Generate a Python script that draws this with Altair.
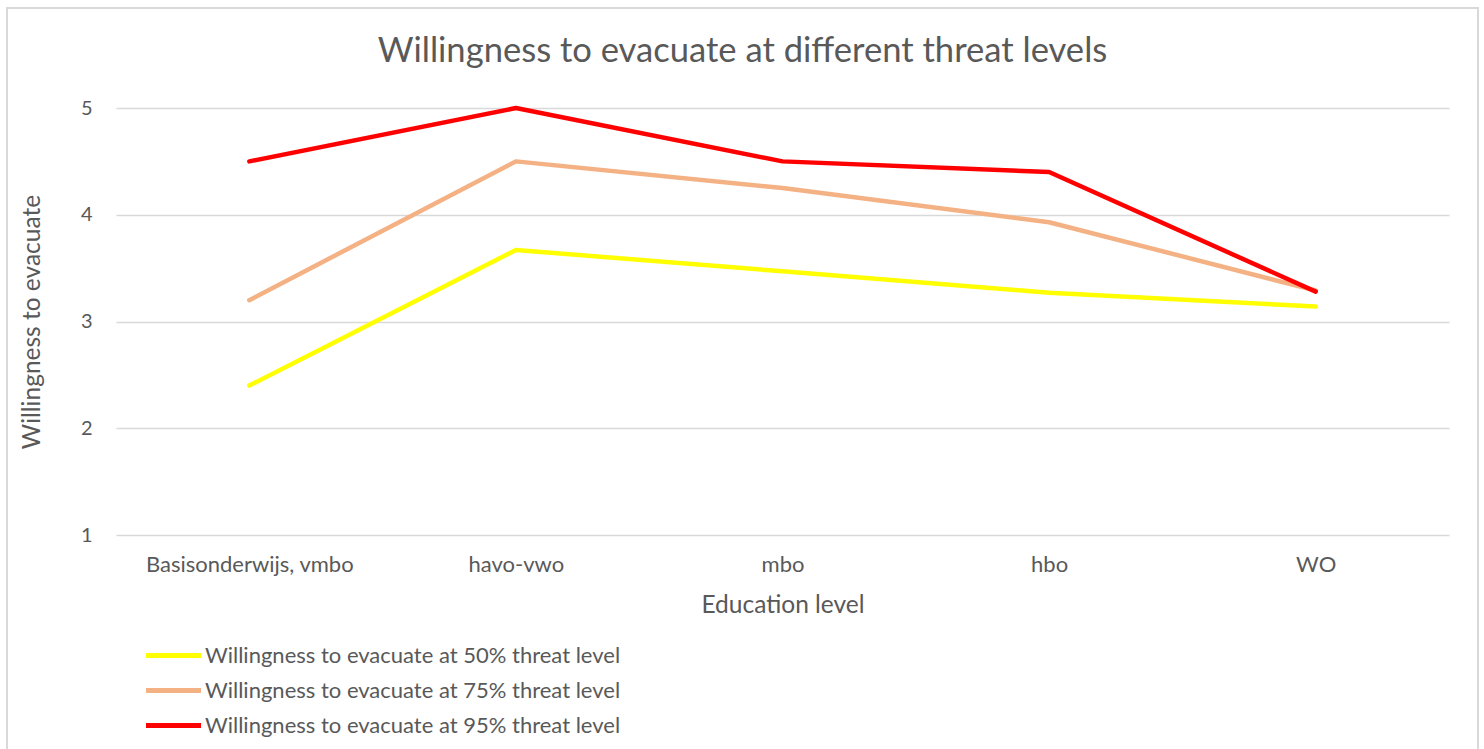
import altair as alt
import pandas as pd

categories = ["Basisonderwijs, vmbo", "havo-vwo", "mbo", "hbo", "WO"]
series_names = [
    "Willingness to evacuate at 50% threat level",
    "Willingness to evacuate at 75% threat level",
    "Willingness to evacuate at 95% threat level",
]
values_50 = [2.40, 3.67, 3.47, 3.27, 3.14]
values_75 = [3.20, 4.50, 4.25, 3.93, 3.29]
values_95 = [4.50, 5.00, 4.50, 4.40, 3.28]
colors = ["#FFFF00", "#F4B183", "#FF0000"]

rows = []
for name, vals in zip(series_names, [values_50, values_75, values_95]):
    for c, v in zip(categories, vals):
        rows.append({"level": c, "series": name, "value": v})
df = pd.DataFrame(rows)

FONT = "Lato"
TXT = "#595959"

lines = alt.Chart(df).mark_line(strokeWidth=4.5, strokeCap="round", strokeJoin="round").encode(
    x=alt.X("level:N", sort=categories, title="Education level",
            scale=alt.Scale(paddingInner=1, paddingOuter=0.5),
            axis=alt.Axis(labelAngle=0, domain=False, ticks=False, labelPadding=19,
                          labelLimit=400, titlePadding=18, grid=False)),
    y=alt.Y("value:Q", title="Willingness to evacuate",
            scale=alt.Scale(domain=[1, 5], nice=False, zero=False),
            axis=alt.Axis(values=[1, 2, 3, 4, 5], domain=False, ticks=False, labelPadding=24,
                          titlePadding=36, grid=True, gridColor="#D9D9D9", gridWidth=1.3)),
    color=alt.Color("series:N", sort=series_names,
                    scale=alt.Scale(domain=series_names, range=colors),
                    legend=alt.Legend(orient="none", legendX=44, legendY=534, title=None,
                                      symbolType="M-2.5,0H2.5", symbolSize=484,
                                      symbolStrokeWidth=5, labelOffset=18,
                                      rowPadding=10, labelFontSize=22, labelColor=TXT,
                                      labelFont=FONT, labelLimit=700)),
)

frame_df = pd.DataFrame({"k": [0]})
frame = alt.Chart(frame_df).mark_rect(fill=None, stroke="#D9D9D9", strokeWidth=2).encode(
    x=alt.value(-109), x2=alt.value(1362), y=alt.value(-100), y2=alt.value(660)
)

chart = alt.layer(frame, lines).properties(
    width=1333, height=427,
    autosize=alt.AutoSizeParams(type="none"),
    padding={"left": 116, "top": 108, "right": 35, "bottom": 214},
    title=alt.TitleParams("Willingness to evacuate at different threat levels",
                          fontSize=34.6, font=FONT, color=TXT, fontWeight="normal",
                          anchor="middle", frame="group", dx=-40, offset=-63),
).configure_view(stroke=None).configure_axis(
    labelFont=FONT, titleFont=FONT, labelColor=TXT, titleColor=TXT,
    titleFontWeight="normal"
).configure_axisX(labelFontSize=22, titleFontSize=24.5).configure_axisY(
    labelFontSize=20, titleFontSize=24.5
)

chart.save("out.html", embed_options={"renderer": "svg", "actions": False})
